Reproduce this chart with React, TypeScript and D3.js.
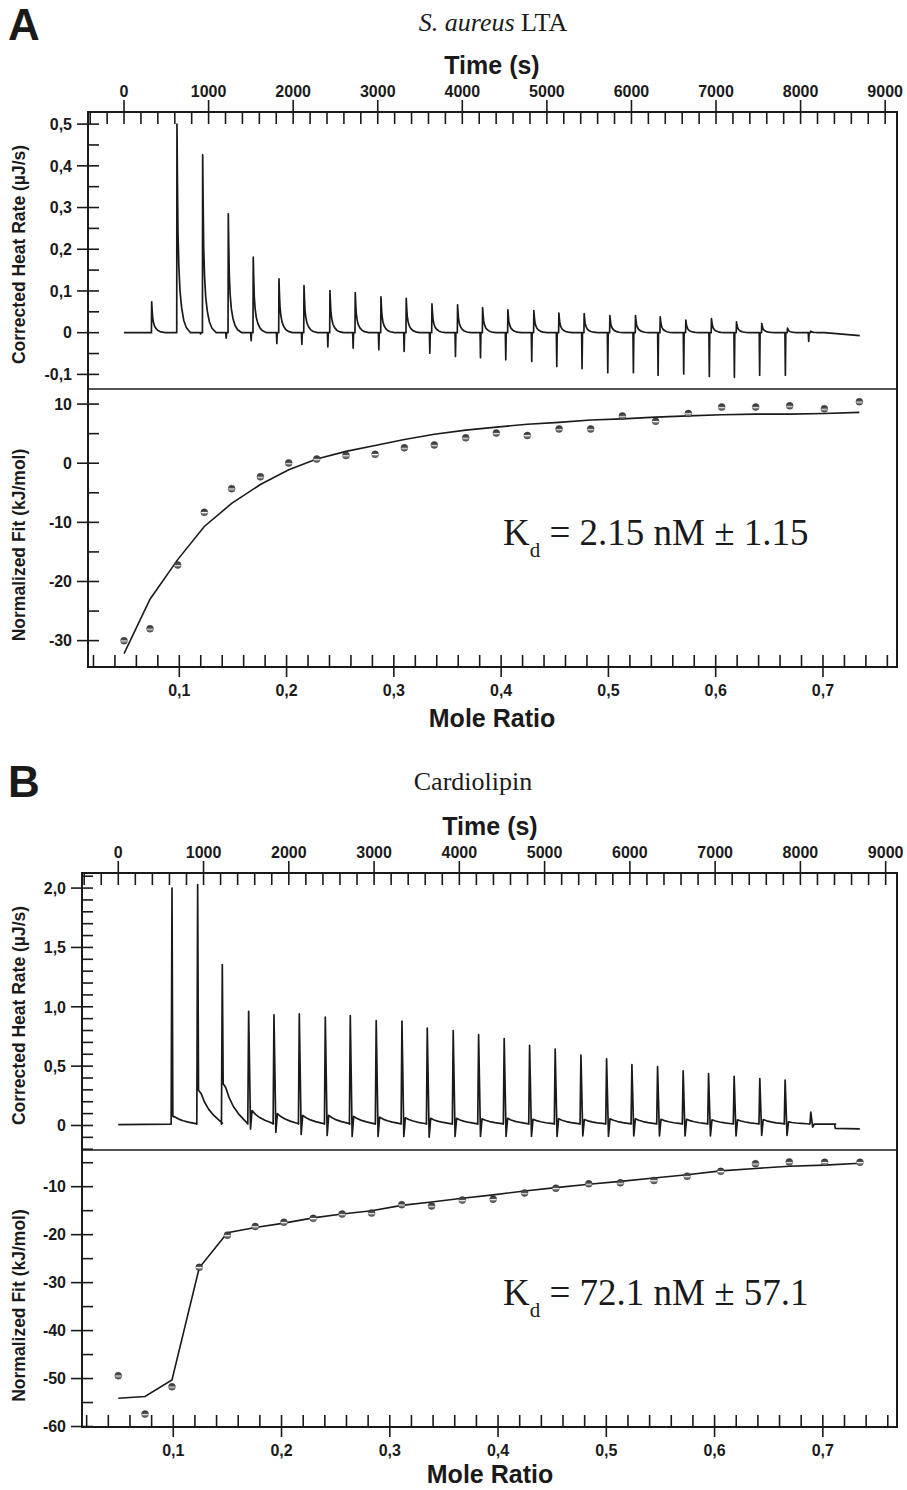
import { useEffect, useRef } from "react";
import * as d3 from "d3";

// ==== PANEL A : S. aureus LTA ====
// injection times (s), peak heights and the short negative artefact before each spike (µJ/s)
const A_INJ_TIME = [327, 626, 930, 1233, 1528, 1832, 2128, 2435, 2734, 3038, 3337, 3641, 3944, 4240, 4539, 4846, 5142, 5441, 5745, 6048, 6340, 6643, 6946, 7242, 7541, 7845, 8121];
const A_PEAK = [0.074, 0.5, 0.426, 0.285, 0.181, 0.129, 0.113, 0.101, 0.096, 0.086, 0.082, 0.069, 0.067, 0.06, 0.055, 0.053, 0.047, 0.046, 0.041, 0.041, 0.038, 0.03, 0.034, 0.026, 0.022, 0.011, 0.004];
const A_DIP = [0, 0, -0.003, -0.013, -0.019, -0.026, -0.028, -0.034, -0.037, -0.041, -0.045, -0.049, -0.057, -0.06, -0.065, -0.069, -0.081, -0.086, -0.096, -0.096, -0.102, -0.099, -0.105, -0.107, -0.102, -0.102, -0.021];
// peak decay profile: [seconds after apex, fraction of apex]
const A_SHAPE = [[5, 0.75], [12, 0.48], [22, 0.32], [36, 0.2], [55, 0.12], [80, 0.06], [110, 0.025], [160, 0]];
const A_TRACE_END = [[8700, -0.007]];

const A_MOLE_RATIO = [0.0485, 0.0727, 0.0985, 0.1233, 0.1488, 0.1756, 0.202, 0.2281, 0.2554, 0.2825, 0.3098, 0.3377, 0.367, 0.3955, 0.4244, 0.454, 0.4835, 0.513, 0.544, 0.5745, 0.6056, 0.6373, 0.669, 0.7013, 0.7339];
const A_HEAT = [-30.0, -28.0, -17.2, -8.3, -4.3, -2.3, 0.05, 0.7, 1.3, 1.5, 2.6, 3.1, 4.3, 5.1, 4.7, 5.8, 5.8, 8.0, 7.1, 8.4, 9.5, 9.5, 9.7, 9.2, 10.4];
const A_FIT = [-32.2, -23.0, -16.3, -10.7, -6.8, -3.6, -1.1, 0.7, 2.0, 3.0, 4.0, 4.9, 5.6, 6.1, 6.6, 6.9, 7.3, 7.5, 7.8, 8.0, 8.2, 8.3, 8.3, 8.4, 8.6];

// ==== PANEL B : Cardiolipin ====
const B_INJ_TIME = [630, 931, 1220, 1529, 1826, 2123, 2428, 2721, 3025, 3327, 3624, 3928, 4226, 4526, 4824, 5124, 5426, 5727, 6024, 6325, 6625, 6923, 7223, 7524, 7821, 8122];
const B_PEAK = [2.0, 2.03, 1.355, 0.961, 0.933, 0.94, 0.913, 0.925, 0.883, 0.88, 0.82, 0.8, 0.765, 0.731, 0.675, 0.644, 0.593, 0.562, 0.512, 0.495, 0.461, 0.436, 0.413, 0.394, 0.382, 0.112];
const B_DIP = [0, 0, 0, -0.03, -0.056, -0.075, -0.084, -0.093, -0.093, -0.093, -0.098, -0.093, -0.093, -0.093, -0.093, -0.093, -0.088, -0.093, -0.088, -0.088, -0.088, -0.088, -0.088, -0.084, -0.084, -0.014];
// value of the slow tail right after each spike
const B_TAIL = [0.07, 0.27, 0.32, 0.126, 0.1, 0.085, 0.085, 0.076, 0.07, 0.065, 0.06, 0.06, 0.056, 0.06, 0.052, 0.056, 0.05, 0.056, 0.056, 0.052, 0.052, 0.048, 0.048, 0.05, 0.03, 0.012];
const B_BASE = 0.012;
const B_SHAPE = [[40, 1], [80, 0.72], [130, 0.48], [190, 0.28], [250, 0.13], [290, 0.03]];
const B_TRACE_START = [[0, 0.008]];
const B_TRACE_END = [[8400, 0.012], [8410, -0.025], [8697, -0.028]];

const B_MOLE_RATIO = [0.0492, 0.0739, 0.0988, 0.124, 0.15, 0.1757, 0.2022, 0.2293, 0.256, 0.2832, 0.311, 0.3386, 0.367, 0.3955, 0.4245, 0.4534, 0.4838, 0.513, 0.544, 0.5746, 0.6057, 0.6378, 0.669, 0.7017, 0.7343];
const B_HEAT = [-49.4, -57.4, -51.7, -26.8, -20.1, -18.3, -17.4, -16.6, -15.7, -15.5, -13.75, -14.0, -12.8, -12.6, -11.3, -10.3, -9.4, -9.2, -8.7, -7.8, -6.8, -5.2, -4.85, -4.9, -4.9];
const B_FIT = [-54.1, -53.75, -50.3, -26.9, -19.6, -18.5, -17.6, -16.5, -15.7, -15.0, -13.9, -13.2, -12.4, -11.7, -10.9, -10.2, -9.5, -8.9, -8.2, -7.5, -6.7, -6.2, -5.75, -5.5, -5.1];

const FONT_SANS = "'Liberation Sans', Arial, Helvetica, sans-serif";
const FONT_SERIF = "'Liberation Serif', 'Times New Roman', Times, serif";
const INK = "#1a1a1a";

function buildTraceA() {
  const pts = [[0, 0]];
  A_INJ_TIME.forEach((t, i) => {
    pts.push([t - 30, 0]);
    if (A_DIP[i] < 0) {
      pts.push([t - 25, A_DIP[i]]);
      pts.push([t - 20, 0]);
    }
    pts.push([t - 3, 0]);
    pts.push([t, A_PEAK[i]]);
    A_SHAPE.forEach(([dt, f]) => pts.push([t + dt, A_PEAK[i] * f]));
  });
  A_TRACE_END.forEach((p) => pts.push(p));
  return pts;
}

function buildTraceB() {
  const pts = [...B_TRACE_START];
  B_INJ_TIME.forEach((t, i) => {
    pts.push([t - 10, B_BASE]);
    pts.push([t, B_PEAK[i]]);
    if (B_DIP[i] < 0) pts.push([t + 22, B_DIP[i]]);
    else pts.push([t + 10, B_TAIL[i] * 1.1]);
    B_SHAPE.forEach(([dt, f]) => pts.push([t + dt, B_BASE + (B_TAIL[i] - B_BASE) * f]));
  });
  B_TRACE_END.forEach((p) => pts.push(p));
  return pts;
}

const PANELS = [
  {
    letter: "A", letterY: 40,
    title: "LTA", titleItalic: "S. aureus ", titleX: 493, titleY: 31,
    frame: { left: 88, right: 897, top: 112, mid: 389, bottom: 667 },
    timeDomain: [-426, 9140],
    heatDomain: [-0.135, 0.529], heatMajor: 0.1, heatMinor: 0.05,
    mrDomain: [0.0149, 0.769],
    fitDomain: [-34.46, 12.55],
    trace: buildTraceA(),
    mr: A_MOLE_RATIO, heat: A_HEAT, fit: A_FIT,
    kd: " = 2.15 nM \u00b1 1.15", kdY: 545,
    axisLabelX: 492, moleLabelY: 727,
  },
  {
    letter: "B", letterY: 797,
    title: "Cardiolipin", titleItalic: "", titleX: 473, titleY: 790,
    frame: { left: 82, right: 897, top: 873, mid: 1150, bottom: 1427 },
    timeDomain: [-425.5, 9133],
    heatDomain: [-0.2066, 2.127], heatMajor: 0.5, heatMinor: 0.1,
    mrDomain: [0.0157, 0.7685],
    fitDomain: [-60.1, -2.35],
    trace: buildTraceB(),
    mr: B_MOLE_RATIO, heat: B_HEAT, fit: B_FIT,
    kd: " = 72.1 nM \u00b1 57.1", kdY: 1305,
    axisLabelX: 490, moleLabelY: 1483,
  },
];

function ticksIn(domain, step) {
  const lo = Math.min(domain[0], domain[1]);
  const hi = Math.max(domain[0], domain[1]);
  const k0 = Math.ceil(lo / step - 1e-9);
  const k1 = Math.floor(hi / step + 1e-9);
  return d3.range(k0, k1 + 1).map((k) => +(k * step).toFixed(6));
}

const isMultiple = (v, step) => Math.abs(v / step - Math.round(v / step)) < 1e-6;
const fmtDec = (v) => (Math.abs(v) < 1e-9 ? "0" : v.toFixed(1).replace(".", ","));
const fmtInt = (v) => String(Math.round(v));

function drawPanel(root, p) {
  const { left, right, top, mid, bottom } = p.frame;
  const g = root.append("g");

  const xTime = d3.scaleLinear().domain(p.timeDomain).range([left, right]);
  const yHeat = d3.scaleLinear().domain(p.heatDomain).range([mid, top]);
  const xMr = d3.scaleLinear().domain(p.mrDomain).range([left, right]);
  const yFit = d3.scaleLinear().domain(p.fitDomain).range([bottom, mid]);

  // panel letter + title
  g.append("text")
    .attr("x", 8).attr("y", p.letterY)
    .attr("font-family", FONT_SANS).attr("font-weight", "bold")
    .attr("font-size", 44).attr("fill", INK)
    .text(p.letter);

  const title = g.append("text")
    .attr("x", p.titleX).attr("y", p.titleY)
    .attr("text-anchor", "middle")
    .attr("font-family", FONT_SERIF).attr("font-size", 26).attr("fill", INK);
  if (p.titleItalic) title.append("tspan").attr("font-style", "italic").text(p.titleItalic);
  title.append("tspan").text(p.title);

  // axis titles
  g.append("text")
    .attr("x", p.axisLabelX).attr("y", top - 38)
    .attr("text-anchor", "middle")
    .attr("font-family", FONT_SANS).attr("font-weight", "bold")
    .attr("font-size", 25).attr("fill", INK)
    .text("Time (s)");

  g.append("text")
    .attr("x", p.axisLabelX).attr("y", p.moleLabelY)
    .attr("text-anchor", "middle")
    .attr("font-family", FONT_SANS).attr("font-weight", "bold")
    .attr("font-size", 25).attr("fill", INK)
    .text("Mole Ratio");

  g.append("text")
    .attr("transform", `translate(25,${(top + mid) / 2 + 4}) rotate(-90)`)
    .attr("text-anchor", "middle")
    .attr("font-family", FONT_SANS).attr("font-weight", "bold")
    .attr("font-size", 17.5).attr("fill", INK)
    .text("Corrected Heat Rate (\u00b5J/s)");

  g.append("text")
    .attr("transform", `translate(25,${(mid + bottom) / 2 + 17}) rotate(-90)`)
    .attr("text-anchor", "middle")
    .attr("font-family", FONT_SANS).attr("font-weight", "bold")
    .attr("font-size", 17.5).attr("fill", INK)
    .text("Normalized Fit (kJ/mol)");

  const ticks = g.append("g").attr("stroke", INK).attr("stroke-width", 1.6);
  const labels = g.append("g")
    .attr("font-family", FONT_SANS).attr("font-weight", "bold")
    .attr("font-size", 16).attr("fill", INK);

  // top time axis: majors cross the frame, minors point inward
  ticksIn(p.timeDomain, 200).forEach((t) => {
    const major = isMultiple(t, 1000);
    const x = xTime(t);
    ticks.append("line")
      .attr("x1", x).attr("x2", x)
      .attr("y1", major ? top - 12 : top).attr("y2", top + 12);
    if (major && t >= 0) {
      labels.append("text").attr("x", x).attr("y", top - 15)
        .attr("text-anchor", "middle").text(fmtInt(t));
    }
  });

  // left heat-rate axis
  ticksIn(p.heatDomain, p.heatMinor).forEach((v) => {
    const major = isMultiple(v, p.heatMajor);
    const y = yHeat(v);
    if (y > mid - 0.5 || y < top + 0.5) return;
    ticks.append("line")
      .attr("x1", major ? left - 11 : left).attr("x2", left + 11)
      .attr("y1", y).attr("y2", y);
    if (major) {
      labels.append("text").attr("x", left - 16).attr("y", y).attr("dy", "0.36em")
        .attr("text-anchor", "end").text(fmtDec(v));
    }
  });

  // left fit axis
  ticksIn(p.fitDomain, 5).forEach((v) => {
    const major = isMultiple(v, 10);
    const y = yFit(v);
    if (y < mid + 0.5) return;
    ticks.append("line")
      .attr("x1", major ? left - 11 : left).attr("x2", left + 11)
      .attr("y1", y).attr("y2", y);
    if (major) {
      labels.append("text").attr("x", left - 16).attr("y", y).attr("dy", "0.36em")
        .attr("text-anchor", "end").text(fmtInt(v));
    }
  });

  // bottom mole-ratio axis
  ticksIn(p.mrDomain, 0.02).forEach((v) => {
    const major = isMultiple(v, 0.1);
    const x = xMr(v);
    ticks.append("line")
      .attr("x1", x).attr("x2", x)
      .attr("y1", bottom - 12).attr("y2", major ? bottom + 10 : bottom);
    if (major) {
      labels.append("text").attr("x", x).attr("y", bottom + 29)
        .attr("text-anchor", "middle").text(fmtDec(v));
    }
  });

  // frame + divider
  g.append("rect")
    .attr("x", left).attr("y", top)
    .attr("width", right - left).attr("height", bottom - top)
    .attr("fill", "none").attr("stroke", INK).attr("stroke-width", 2);
  g.append("line")
    .attr("x1", left).attr("x2", right)
    .attr("y1", mid).attr("y2", mid)
    .attr("stroke", INK).attr("stroke-width", 1.6);

  // raw thermogram
  const traceLine = d3.line()
    .x((d) => xTime(d[0]))
    .y((d) => yHeat(d[1]));
  g.append("path")
    .attr("d", traceLine(p.trace))
    .attr("fill", "none").attr("stroke", INK)
    .attr("stroke-width", 1.7).attr("stroke-linejoin", "round");

  // fitted isotherm
  const fitLine = d3.line()
    .x((d) => xMr(d[0]))
    .y((d) => yFit(d[1]));
  g.append("path")
    .attr("d", fitLine(p.mr.map((m, i) => [m, p.fit[i]])))
    .attr("fill", "none").attr("stroke", INK).attr("stroke-width", 1.6);

  // integrated heats
  g.append("g")
    .selectAll("circle")
    .data(p.mr.map((m, i) => ({ m, h: p.heat[i] })))
    .join("circle")
    .attr("cx", (d) => xMr(d.m))
    .attr("cy", (d) => yFit(d.h))
    .attr("r", 3.5)
    .attr("fill", "url(#ball)")
    .attr("stroke", "#2a2a2a").attr("stroke-width", 0.4);

  // Kd annotation
  const kd = g.append("text")
    .attr("x", 503).attr("y", p.kdY)
    .attr("font-family", FONT_SERIF).attr("font-size", 37).attr("fill", INK);
  kd.append("tspan").text("K");
  kd.append("tspan").attr("dy", 12).attr("font-size", 21).text("d");
  kd.append("tspan").attr("dy", -12).text(p.kd);
}

export default function App() {
  const svgRef = useRef(null);

  useEffect(() => {
    const svg = d3.select(svgRef.current);
    svg.selectAll("*").remove();

    const defs = svg.append("defs");
    const grad = defs.append("linearGradient")
      .attr("id", "ball").attr("x1", 0).attr("y1", 0).attr("x2", 0).attr("y2", 1);
    [
      [0, "#2e2e2e"], [0.44, "#555555"], [0.52, "#ffffff"], [0.64, "#9a9a9a"], [1, "#3c3c3c"],
    ].forEach(([o, c]) => grad.append("stop").attr("offset", o).attr("stop-color", c));

    svg.append("rect").attr("width", 907).attr("height", 1490).attr("fill", "#fff");
    PANELS.forEach((p) => drawPanel(svg, p));
  }, []);

  return (
    <svg
      ref={svgRef}
      width={907}
      height={1490}
      style={{ position: "absolute", left: 0, top: 0, display: "block" }}
    />
  );
}
